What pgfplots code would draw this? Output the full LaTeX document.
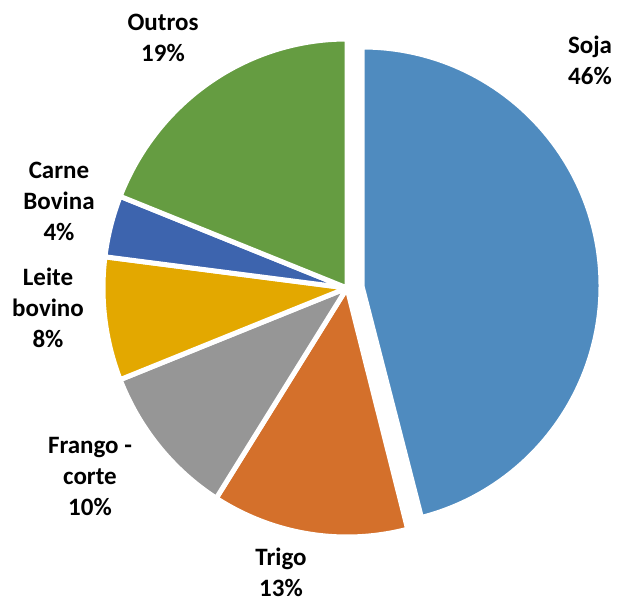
\documentclass[border=0pt]{standalone}
\usepackage{pgfplots}
\pgfplotsset{compat=1.18}
\usepackage{pgfplotstable}
\usepackage{fontspec}
\setmainfont{Carlito}

\definecolor{cSoja}{HTML}{4F8BBF}
\definecolor{cTrigo}{HTML}{D4702B}
\definecolor{cFrango}{HTML}{969696}
\definecolor{cLeite}{HTML}{E3A800}
\definecolor{cCarne}{HTML}{3D64AE}
\definecolor{cOutros}{HTML}{659C41}

% share (%), colour, slice centre and radii (1 unit = 1 px)
\pgfplotstableread{
name   value col     cx  cy  rx  ry
Soja   46    cSoja   362 314 239 239
Trigo  13    cTrigo  347 312 244 249
Frango 10    cFrango 347 312 244 249
Leite  8     cLeite  347 312 244 249
Carne  4     cCarne  347 312 244 249
Outros 19    cOutros 347 312 244 249
}\piedata

\begin{document}
\begin{tikzpicture}
\begin{axis}[
    x=1pt, y=1pt,
    xmin=0, xmax=617,
    ymin=0, ymax=600,
    scale only axis,
    hide axis,
    clip=false,
    ]
    \def\cum{0}
    \pgfplotsforeachungrouped \i in {0,...,5}{%
        \pgfplotstablegetelem{\i}{value}\of\piedata \let\v\pgfplotsretval
        \pgfplotstablegetelem{\i}{col}\of\piedata \let\colname\pgfplotsretval
        \pgfplotstablegetelem{\i}{cx}\of\piedata \let\cx\pgfplotsretval
        \pgfplotstablegetelem{\i}{cy}\of\piedata \let\cy\pgfplotsretval
        \pgfplotstablegetelem{\i}{rx}\of\piedata \let\rx\pgfplotsretval
        \pgfplotstablegetelem{\i}{ry}\of\piedata \let\ry\pgfplotsretval
        \pgfmathsetmacro\aA{90-3.6*\cum}
        \pgfmathsetmacro\cum{\cum+\v}
        \pgfmathsetmacro\aB{90-3.6*\cum}
        \edef\doslice{\noexpand\fill[\colname, draw=white, line width=5pt, line join=round]
            (axis cs:\cx,\cy) -- ++(\aA:\rx pt and \ry pt)
            arc[start angle=\aA, end angle=\aB, x radius=\rx pt, y radius=\ry pt] -- cycle;}
        \doslice
    }

    \begin{scope}[every node/.style={align=center, inner sep=0pt, font=\fontsize{25}{31}\selectfont\bfseries}]
    \node at (axis cs:590,540) {Soja\\46\%};
    \node at (axis cs:163,562) {Outros\\19\%};
    \node at (axis cs:59,399) {Carne\\Bovina\\4\%};
    \node at (axis cs:48,292) {Leite\\bovino\\8\%};
    \node at (axis cs:90,124) {Frango -\\corte\\10\%};
    \node at (axis cs:281,28) {Trigo\\13\%};
    \end{scope}
\end{axis}
\pgfresetboundingbox
\path (current axis.south west) rectangle (current axis.north east);
\end{tikzpicture}
\end{document}
